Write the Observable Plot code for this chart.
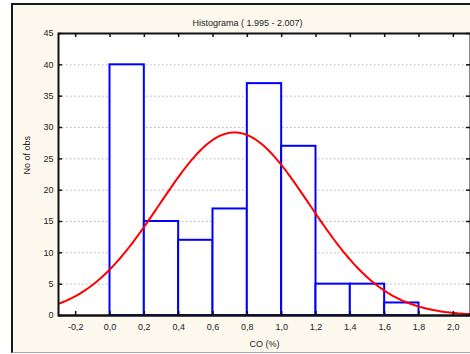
<!DOCTYPE html>
<html>
<head>
<meta charset="utf-8">
<script src="https://cdn.jsdelivr.net/npm/d3@7"></script>
<script src="https://cdn.jsdelivr.net/npm/@observablehq/plot@0.6"></script>
<style>
  html, body { margin: 0; padding: 0; background: #fff; }
  #wrap { position: relative; width: 470px; height: 354px; overflow: hidden; font-family: "Liberation Sans", Arial, sans-serif; }
  #panel { position: absolute; left: 11px; top: 3px; width: 470px; height: 347px;
           background: #fdf9ef; border-left: 2px solid #1a1a1a; border-top: 2px solid #1a1a1a;
           border-bottom: 1px solid #a8a8a8; }
  #chart { position: absolute; left: 0; top: 0; }
</style>
</head>
<body>
<div id="wrap"><div id="panel"></div><div id="chart"></div></div>
<script>
// Histogram of CO (%) readings, bins of width 0.2
const binStarts = [0.0, 0.2, 0.4, 0.6, 0.8, 1.0, 1.2, 1.4, 1.6];
const counts    = [40, 15, 12, 17, 37, 27, 5, 5, 2];
const binWidth = 0.2;

// Fitted normal distribution (from the raw observations)
const fitMean = 0.725;
const fitSd = 0.437;

const xTicks = [-0.2, 0.0, 0.2, 0.4, 0.6, 0.8, 1.0, 1.2, 1.4, 1.6, 1.8, 2.0];
const yTicks = [0, 5, 10, 15, 20, 25, 30, 35, 40, 45];
const gridLines = [5, 10, 15, 20, 25, 30, 35, 40];

const titleText = "Histograma ( 1.995 - 2.007)";
const xLabel = "CO (%)";
const yLabel = "No of obs";

const bins = binStarts.map((x0, i) => ({x1: x0, x2: x0 + binWidth, count: counts[i]}));

// Expected counts per bin under the fitted normal
const n = d3.sum(counts);
const normal = d3.range(-0.3, 2.1001, 0.01).map(x => ({
  x,
  y: n * binWidth * Math.exp(-0.5 * ((x - fitMean) / fitSd) ** 2) / (fitSd * Math.sqrt(2 * Math.PI))
}));

const fmt = d => d.toFixed(1).replace(".", ",").replace("-0,0", "0,0");
const xDom = [-0.3, 2.1], yDom = [0, 45];
const tx = (xDom[1] - xDom[0]) * 4 / 412;  // ~4px tick length in x units
const ty = (yDom[1] - yDom[0]) * 4 / 282;  // ~4px tick length in y units

const chart = Plot.plot({
  width: 470,
  height: 354,
  marginLeft: 58,
  marginRight: 0,
  marginTop: 33,
  marginBottom: 39,
  style: {background: "transparent", fontFamily: "Liberation Sans, Arial, sans-serif", fontSize: "9px", color: "#222"},
  x: {domain: xDom},
  y: {domain: yDom},
  marks: [
    Plot.frame({fill: "white"}),
    Plot.ruleY(gridLines, {stroke: "#b4b4b4", strokeWidth: 1, strokeDasharray: "1.5,2.5"}),
    Plot.rect(bins, {x1: "x1", x2: "x2", y1: 0, y2: "count", fill: "white", stroke: "#0000ff", strokeWidth: 2}),
    Plot.line(normal, {x: "x", y: "y", stroke: "#ff0000", strokeWidth: 2, clip: true}),
    Plot.ruleY([0], {stroke: "#101030", strokeWidth: 2}),
    Plot.frame({stroke: "#111", strokeWidth: 2}),
    // inward tick marks on all four sides
    Plot.ruleX(xTicks, {y1: 0, y2: ty, stroke: "#111", strokeWidth: 1.5}),
    Plot.ruleX(xTicks, {y1: 45, y2: 45 - ty, stroke: "#111", strokeWidth: 1.5}),
    Plot.ruleY(yTicks, {x1: xDom[0], x2: xDom[0] + tx, stroke: "#111", strokeWidth: 1.5}),
    Plot.ruleY(yTicks, {x1: xDom[1], x2: xDom[1] - tx, stroke: "#111", strokeWidth: 1.5}),
    Plot.axisX({ticks: xTicks, tickSize: 0, tickPadding: 8, tickFormat: fmt, label: null, fontSize: 9}),
    Plot.axisY({ticks: yTicks, tickSize: 0, tickPadding: 5, label: null, fontSize: 9}),
    Plot.text([titleText], {frameAnchor: "top", dx: -17, dy: -14, fontSize: 9, fill: "#222"}),
    Plot.text([xLabel], {frameAnchor: "bottom", dy: 31, fontSize: 9, fill: "#222"}),
    Plot.text([yLabel], {frameAnchor: "left", dx: -31, rotate: -90, fontSize: 9, fill: "#222"})
  ]
});
document.getElementById("chart").appendChild(chart);
</script>
</body>
</html>
